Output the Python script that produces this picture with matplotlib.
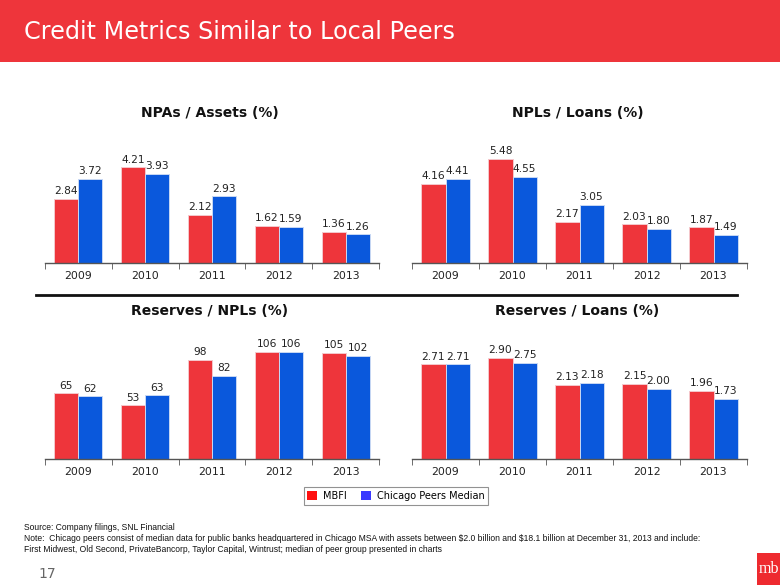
import numpy as np
import matplotlib
matplotlib.use("Agg")
import matplotlib.pyplot as plt
from matplotlib.patches import Patch, Rectangle

# data
years = ["2009", "2010", "2011", "2012", "2013"]

npa_assets_mbfi = [2.84, 4.21, 2.12, 1.62, 1.36]
npa_assets_peer = [3.72, 3.93, 2.93, 1.59, 1.26]

npl_loans_mbfi = [4.16, 5.48, 2.17, 2.03, 1.87]
npl_loans_peer = [4.41, 4.55, 3.05, 1.80, 1.49]

res_npl_mbfi = [65, 53, 98, 106, 105]
res_npl_peer = [62, 63, 82, 106, 102]

res_loans_mbfi = [2.71, 2.90, 2.13, 2.15, 1.96]
res_loans_peer = [2.71, 2.75, 2.18, 2.00, 1.73]

RED = "#ee353b"
BLUE = "#0a58dc"
W, H = 780, 585

fig = plt.figure(figsize=(7.8, 5.85), dpi=100)
fig.patch.set_facecolor("white")


def px(x, y):
    # pixel coords (from top-left) -> figure fraction
    return x / W, 1 - y / H


def add_chart(left, right, base, ytop, title, title_y, mbfi, peer, fmt):
    ax_h = 115
    ax = fig.add_axes([left / W, (H - base) / H, (right - left) / W, ax_h / H])
    x = np.arange(len(years))
    bw = 0.36
    b1 = ax.bar(x - bw / 2, mbfi, bw, color=RED, edgecolor="#f4c8cc", linewidth=0.7)
    b2 = ax.bar(x + bw / 2, peer, bw, color=BLUE, edgecolor="#c8d8f4", linewidth=0.7)
    for bars, vals in ((b1, mbfi), (b2, peer)):
        for b, v in zip(bars, vals):
            ax.annotate(fmt.format(v), (b.get_x() + b.get_width() / 2, v),
                        xytext=(0, 2), textcoords="offset points",
                        ha="center", va="bottom", fontsize=7.7, color="#222222")
    ax.set_xlim(-0.5, len(years) - 0.5)
    ax.set_ylim(0, ytop)
    for s in ("top", "right", "left"):
        ax.spines[s].set_visible(False)
    ax.spines["bottom"].set_color("#555555")
    ax.spines["bottom"].set_linewidth(1.0)
    ax.set_yticks([])
    ax.set_xticks(x)
    ax.set_xticklabels(years, fontsize=7.8, color="#222222")
    ax.tick_params(axis="x", which="major", length=0, pad=6)
    ax.set_xticks(np.arange(-0.5, len(years)), minor=True)
    ax.tick_params(axis="x", which="minor", length=4, color="#555555", direction="out")
    ax.set_facecolor("none")
    cx = (left + right) / 2
    fig.text(*px(cx - 2, title_y), title, ha="center", va="center",
             fontsize=10, fontweight="bold", color="#111111")
    return ax


add_chart(45, 379, 263, 115 / 22.7, "NPAs / Assets (%)", 113,
          npa_assets_mbfi, npa_assets_peer, "{:.2f}")
add_chart(412, 747, 263, 115 / 19.0, "NPLs / Loans (%)", 113,
          npl_loans_mbfi, npl_loans_peer, "{:.2f}")
add_chart(45, 379, 459, 115 / 1.01, "Reserves / NPLs (%)", 311,
          res_npl_mbfi, res_npl_peer, "{:.0f}")
add_chart(412, 747, 459, 115 / 34.9, "Reserves / Loans (%)", 311,
          res_loans_mbfi, res_loans_peer, "{:.2f}")

# header band
fig.patches.append(Rectangle((0, 1 - 62 / H), 1, 62 / H, transform=fig.transFigure,
                             facecolor="#ee353b", edgecolor="none", zorder=0))
fig.text(*px(24, 32), "Credit Metrics Similar to Local Peers", ha="left", va="center",
         fontsize=17.2, color="white")

# separator between rows
fig.add_artist(plt.Line2D([36 / W, 737 / W], [1 - 295 / H] * 2, transform=fig.transFigure,
                          color="#111111", linewidth=2))

# legend
handles = [Patch(facecolor="#ff1010", edgecolor="none", label="MBFI"),
           Patch(facecolor="#3a3aff", edgecolor="none", label="Chicago Peers Median")]
leg = fig.legend(handles=handles, loc="center", bbox_to_anchor=px(396, 496), ncol=2,
                 fontsize=7, frameon=True, fancybox=False, handlelength=1.0,
                 handleheight=1.0, columnspacing=1.5, handletextpad=0.6,
                 borderpad=0.4)
leg.get_frame().set_edgecolor("#777777")
leg.get_frame().set_linewidth(0.8)

# footnotes
foot = ["Source: Company filings, SNL Financial",
        "Note:  Chicago peers consist of median data for public banks headquartered in Chicago MSA "
        "with assets between \\$2.0 billion and \\$18.1 billion at December 31, 2013 and include:",
        "First Midwest, Old Second, PrivateBancorp, Taylor Capital, Wintrust; median of peer group "
        "presented in charts"]
for i, line in enumerate(foot):
    fig.text(*px(24, 528 + i * 10.5), line, ha="left", va="center",
             fontsize=6.15, color="#111111",
             family=["Liberation Sans", "DejaVu Sans"])

fig.text(*px(38, 574), "17", ha="left", va="center", fontsize=10, color="#666666")

# mb logo
fig.patches.append(Rectangle((757 / W, 0), 23 / W, 32 / H, transform=fig.transFigure,
                             facecolor="#ee2a2f", edgecolor="none"))
fig.text(*px(768.5, 569), "mb", ha="center", va="center", fontsize=11.5, color="white",
         family=["Liberation Serif", "DejaVu Serif"])

fig.savefig("out.png", dpi=100)
